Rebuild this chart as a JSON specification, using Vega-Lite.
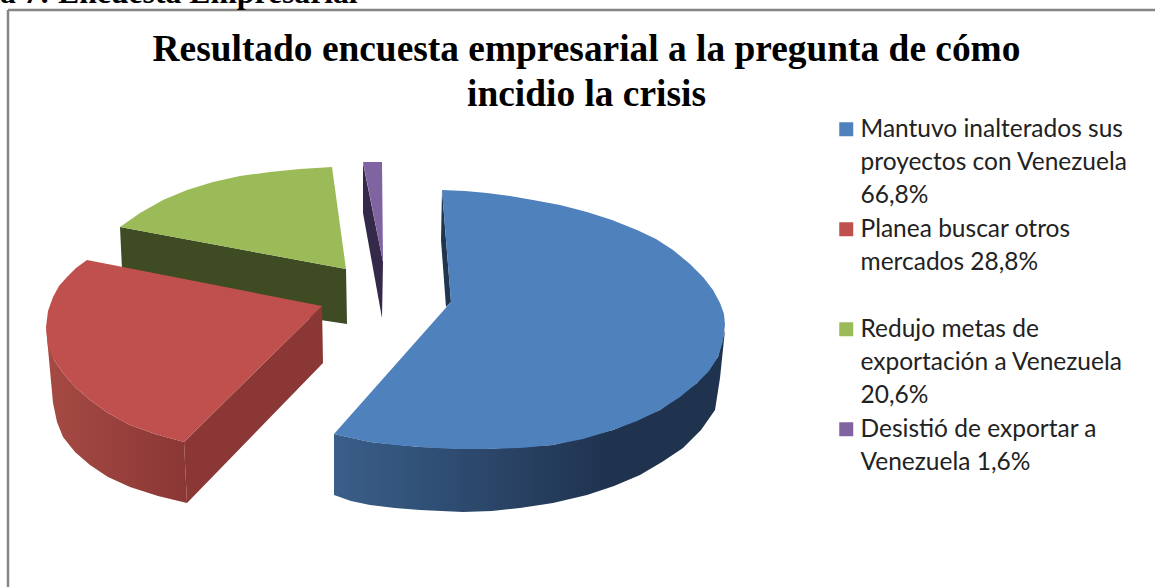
{"$schema":"https://vega.github.io/schema/vega-lite/v6.json","width":1155,"height":587,"padding":0,"autosize":{"type":"none"},"background":"white",
"config":{"view":{"stroke":null},"title":{"font":"Liberation Serif"}},
"title":{"text":["Resultado encuesta empresarial a la pregunta de cómo","incidio la crisis"],"font":"Liberation Serif","fontWeight":"bold","fontSize":37.4,"lineHeight":45,"color":"#000000","anchor":"middle","baseline":"alphabetic","dx":9,"dy":166,"offset":0},
"datasets":{
"top":[
{"s":"Redujo metas","i":1,"x":332,"y":167},{"s":"Redujo metas","i":2,"x":300,"y":169},{"s":"Redujo metas","i":3,"x":270,"y":172},{"s":"Redujo metas","i":4,"x":240,"y":176},{"s":"Redujo metas","i":5,"x":213,"y":182},{"s":"Redujo metas","i":6,"x":187,"y":190},{"s":"Redujo metas","i":7,"x":163,"y":200},{"s":"Redujo metas","i":8,"x":140,"y":213},{"s":"Redujo metas","i":9,"x":120,"y":227},{"s":"Redujo metas","i":10,"x":346,"y":269},
{"s":"Desistió","i":1,"x":363,"y":162},{"s":"Desistió","i":2,"x":382,"y":162},{"s":"Desistió","i":3,"x":383,"y":262},
{"s":"Planea","i":1,"x":87,"y":260},{"s":"Planea","i":2,"x":322,"y":306},{"s":"Planea","i":3,"x":184,"y":442},{"s":"Planea","i":4,"x":155,"y":434},{"s":"Planea","i":5,"x":130,"y":425},{"s":"Planea","i":6,"x":108,"y":413},{"s":"Planea","i":7,"x":90,"y":400},{"s":"Planea","i":8,"x":75,"y":387},{"s":"Planea","i":9,"x":63,"y":373},{"s":"Planea","i":10,"x":54,"y":360},{"s":"Planea","i":11,"x":48,"y":347},{"s":"Planea","i":12,"x":46,"y":327},{"s":"Planea","i":13,"x":48,"y":311},{"s":"Planea","i":14,"x":53,"y":297},{"s":"Planea","i":15,"x":59,"y":286},{"s":"Planea","i":16,"x":67,"y":277},{"s":"Planea","i":17,"x":76,"y":268},
{"s":"Mantuvo","i":1,"x":442,"y":190},{"s":"Mantuvo","i":1.5,"x":465,"y":191},{"s":"Mantuvo","i":2,"x":487,"y":193},{"s":"Mantuvo","i":2.5,"x":510,"y":196},{"s":"Mantuvo","i":3,"x":533,"y":200},{"s":"Mantuvo","i":3.5,"x":560,"y":205},{"s":"Mantuvo","i":4,"x":587,"y":212},{"s":"Mantuvo","i":4.5,"x":612,"y":220},{"s":"Mantuvo","i":5,"x":637,"y":230},{"s":"Mantuvo","i":5.5,"x":656,"y":239},{"s":"Mantuvo","i":6,"x":673,"y":250},{"s":"Mantuvo","i":7,"x":690,"y":264},{"s":"Mantuvo","i":8,"x":703,"y":277},{"s":"Mantuvo","i":9,"x":713,"y":290},{"s":"Mantuvo","i":10,"x":720,"y":303},{"s":"Mantuvo","i":10.5,"x":724,"y":314},{"s":"Mantuvo","i":11,"x":725,"y":325},{"s":"Mantuvo","i":12,"x":723,"y":341},{"s":"Mantuvo","i":13,"x":718,"y":357},{"s":"Mantuvo","i":14,"x":709,"y":371},{"s":"Mantuvo","i":15,"x":697,"y":383},{"s":"Mantuvo","i":16,"x":680,"y":397},{"s":"Mantuvo","i":17,"x":660,"y":410},{"s":"Mantuvo","i":18,"x":637,"y":421},{"s":"Mantuvo","i":19,"x":613,"y":430},{"s":"Mantuvo","i":20,"x":583,"y":439},{"s":"Mantuvo","i":21,"x":553,"y":445},{"s":"Mantuvo","i":22,"x":520,"y":448},{"s":"Mantuvo","i":23,"x":487,"y":449},{"s":"Mantuvo","i":24,"x":453,"y":449},{"s":"Mantuvo","i":25,"x":420,"y":447},{"s":"Mantuvo","i":25.5,"x":395,"y":445},{"s":"Mantuvo","i":26,"x":370,"y":442},{"s":"Mantuvo","i":26.5,"x":351,"y":438},{"s":"Mantuvo","i":27,"x":334,"y":434},{"s":"Mantuvo","i":28,"x":451,"y":302}
],
"greenSide":[{"i":1,"x":120,"y":227},{"i":2,"x":123,"y":290},{"i":3,"x":347,"y":324},{"i":4,"x":346,"y":269}],
"purpleSide":[{"i":1,"x":363,"y":163},{"i":2,"x":363,"y":213},{"i":3,"x":382,"y":318},{"i":4,"x":383,"y":262}],
"redOuter":[{"i":1,"x":46,"y":327},{"i":2,"x":53,"y":403},{"i":2.5,"x":57,"y":422},{"i":3,"x":63,"y":437},{"i":4,"x":75,"y":452},{"i":5,"x":90,"y":465},{"i":6,"x":108,"y":477},{"i":7,"x":130,"y":487},{"i":8,"x":158,"y":496},{"i":9,"x":187,"y":503},{"i":10,"x":184,"y":442},{"i":11,"x":155,"y":434},{"i":12,"x":130,"y":425},{"i":13,"x":108,"y":413},{"i":14,"x":90,"y":400},{"i":15,"x":75,"y":387},{"i":16,"x":63,"y":373},{"i":17,"x":54,"y":360}],
"redInner":[{"i":1,"x":184,"y":442},{"i":2,"x":187,"y":503},{"i":3,"x":323,"y":363},{"i":4,"x":322,"y":306}],
"blueInner":[{"i":1,"x":442,"y":190},{"i":2,"x":441,"y":240},{"i":3,"x":446,"y":307},{"i":4,"x":451,"y":302}],
"blueOuter":[{"i":1,"x":334,"y":434},{"i":2,"x":334,"y":495},{"i":2.5,"x":351,"y":501},{"i":3,"x":370,"y":505},{"i":3.5,"x":395,"y":508},{"i":4,"x":420,"y":510},{"i":5,"x":463,"y":512},{"i":5.5,"x":492,"y":511},{"i":6,"x":520,"y":508},{"i":7,"x":553,"y":503},{"i":8,"x":587,"y":495},{"i":8.5,"x":614,"y":486},{"i":9,"x":640,"y":475},{"i":9.5,"x":662,"y":462},{"i":10,"x":683,"y":448},{"i":11,"x":701,"y":430},{"i":12,"x":715,"y":410},{"i":13,"x":720,"y":378},{"i":14,"x":725,"y":330},{"i":15,"x":718,"y":357},{"i":16,"x":697,"y":383},{"i":17,"x":660,"y":410},{"i":18,"x":613,"y":430},{"i":19,"x":553,"y":445},{"i":20,"x":487,"y":449},{"i":21,"x":420,"y":447},{"i":22,"x":370,"y":442}],
"frame":[{"x":8,"y":10,"x2":8,"y2":587},{"x":8,"y":10,"x2":1155,"y2":10}],
"clip":[{"t":"a 7: Encuesta Empresarial","x":0,"y":2.5}]
},
"encoding":{"x":{"field":"x","type":"quantitative","scale":{"domain":[0,1155],"nice":false,"zero":false},"axis":null},"y":{"field":"y","type":"quantitative","scale":{"domain":[587,0],"nice":false,"zero":false},"axis":null}},
"layer":[
{"data":{"name":"frame"},"mark":{"type":"rule","color":"#858585","strokeWidth":2.5},"encoding":{"x2":{"field":"x2"},"y2":{"field":"y2"}}},
{"data":{"name":"clip"},"mark":{"type":"text","font":"Liberation Serif","fontWeight":"bold","fontSize":31.7,"align":"left","baseline":"alphabetic","color":"#000000"},"encoding":{"text":{"field":"t"}}},
{"data":{"name":"greenSide"},"mark":{"type":"line","fill":"#3F4B22","strokeWidth":0},"encoding":{"order":{"field":"i"}}},
{"data":{"name":"purpleSide"},"mark":{"type":"line","fill":"#35294A","strokeWidth":0},"encoding":{"order":{"field":"i"}}},
{"data":{"name":"redOuter"},"mark":{"type":"line","strokeWidth":0,"fill":{"gradient":"linear","x1":0,"x2":1,"y1":0,"y2":0,"stops":[{"offset":0,"color":"#A64A43"},{"offset":1,"color":"#8A3735"}]}},"encoding":{"order":{"field":"i"}}},
{"data":{"name":"redInner"},"mark":{"type":"line","fill":"#8A3735","strokeWidth":0},"encoding":{"order":{"field":"i"}}},
{"data":{"name":"blueInner"},"mark":{"type":"line","fill":"#1F3550","strokeWidth":0},"encoding":{"order":{"field":"i"}}},
{"data":{"name":"blueOuter"},"mark":{"type":"line","strokeWidth":0,"fill":{"gradient":"linear","x1":0,"x2":1,"y1":0,"y2":0,"stops":[{"offset":0,"color":"#3A5F8A"},{"offset":0.7,"color":"#1F334F"},{"offset":1,"color":"#1F334F"}]}},"encoding":{"order":{"field":"i"}}},
{"data":{"name":"top"},"mark":{"type":"line","strokeWidth":0},"encoding":{"order":{"field":"i"},"fill":{"field":"s","type":"nominal","scale":{"domain":["Mantuvo","Planea","Redujo metas","Desistió"],"range":["#4F81BD","#C0504D","#9BBB59","#8064A2"]},
"legend":{"title":null,"orient":"none","legendX":834,"legendY":117,"symbolType":"square","symbolSize":196,"symbolStrokeWidth":0,"labelFont":"Lato","labelFontSize":24.5,"labelColor":"#222222","labelLimit":400,"labelOffset":2,"rowPadding":9,"labelBaseline":"top",
"labelExpr":"datum.label=='Mantuvo'?['Mantuvo inalterados sus','proyectos con Venezuela','66,8%']:datum.label=='Planea'?['Planea buscar otros','mercados 28,8%','']:datum.label=='Redujo metas'?['Redujo metas de','exportación a Venezuela','20,6%']:['Desistió de exportar a','Venezuela 1,6%','']",
"encoding":{"labels":{"lineHeight":{"value":33},"dy":{"value":-11}}}}}}}
]}
